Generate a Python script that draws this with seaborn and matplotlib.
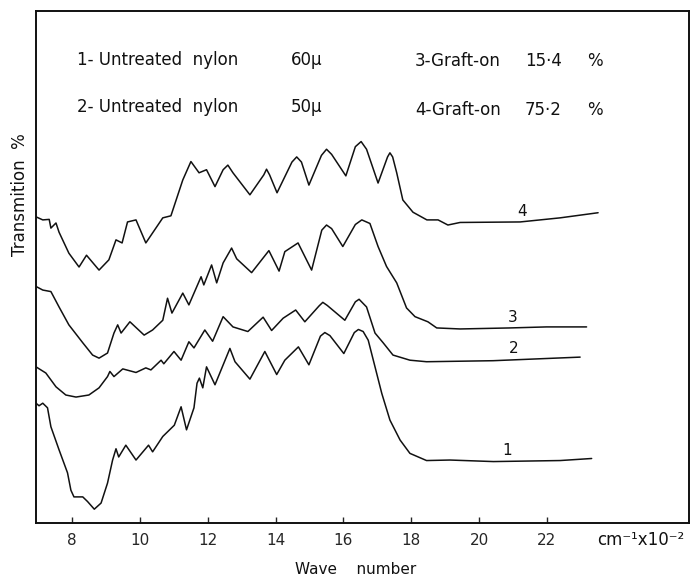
import numpy as np
import pandas as pd
import matplotlib
matplotlib.use("Agg")
import matplotlib.pyplot as plt
import seaborn as sns

# wave number (cm-1 x 10^-2) and transmission (arbitrary units)
wn_1 = [6.93, 7.02, 7.13, 7.27, 7.37, 7.61, 7.86, 7.96, 8.05, 8.31, 8.45, 8.65, 8.85,
        9.04, 9.19, 9.29, 9.37, 9.58, 9.88, 10.25, 10.37, 10.67, 11.01, 11.21, 11.37,
        11.59, 11.68, 11.75, 11.85, 11.96, 12.21, 12.65, 12.80, 13.24, 13.68, 14.03,
        14.27, 14.67, 14.98, 15.32, 15.45, 15.60, 16.01, 16.32, 16.44, 16.58, 16.73,
        16.93, 17.13, 17.37, 17.67, 17.96, 18.45, 19.14, 20.42, 22.39, 23.32]
tr_1 = [23.4, 22.9, 23.4, 22.5, 18.8, 14.3, 9.8, 6.4, 5.1, 5.1, 4.2, 2.7, 3.9,
        7.8, 12.3, 14.5, 12.9, 15.2, 12.3, 15.2, 13.9, 16.9, 19.1, 22.7, 18.2,
        22.5, 27.3, 28.3, 26.4, 30.5, 27.0, 34.1, 31.5, 28.1, 33.5, 29.0,
        31.8, 34.4, 30.9, 36.5, 37.2, 36.6, 33.1, 37.2, 37.8, 37.4, 35.7,
        30.5, 25.3, 20.1, 16.2, 13.6, 12.2, 12.3, 12.0, 12.2, 12.6]

wn_2 = [6.93, 7.22, 7.52, 7.81, 8.11, 8.49, 8.79, 9.04, 9.11, 9.23, 9.49, 9.88, 10.17,
        10.32, 10.62, 10.70, 11.00, 11.21, 11.44, 11.59, 11.91, 12.14, 12.45, 12.74,
        13.18, 13.63, 13.88, 14.22, 14.59, 14.86, 15.28, 15.39, 15.52, 16.04, 16.35,
        16.46, 16.68, 16.93, 17.17, 17.46, 17.96, 18.45, 20.41, 22.98]
tr_2 = [30.5, 29.3, 26.6, 25.0, 24.6, 25.0, 26.4, 28.6, 29.6, 28.6, 30.1, 29.4, 30.3,
        29.9, 31.8, 31.1, 33.5, 31.8, 35.4, 34.2, 37.7, 35.5, 40.3, 38.3,
        37.4, 40.2, 37.6, 40.0, 41.6, 39.3, 42.4, 43.1, 42.5, 39.6, 43.2,
        43.7, 42.2, 37.1, 35.2, 32.8, 31.8, 31.5, 31.7, 32.4]

wn_3 = [6.93, 7.13, 7.37, 7.61, 7.90, 8.31, 8.60, 8.79, 9.04, 9.23, 9.34, 9.44, 9.70,
        10.12, 10.37, 10.67, 10.81, 10.94, 11.26, 11.44, 11.80, 11.88, 12.11, 12.26,
        12.45, 12.70, 12.85, 13.29, 13.80, 14.10, 14.27, 14.66, 15.06, 15.36, 15.50,
        15.65, 15.98, 16.35, 16.54, 16.78, 17.02, 17.27, 17.57, 17.86, 18.11, 18.49,
        18.75, 19.44, 20.91, 21.99, 23.17]
tr_3 = [46.2, 45.5, 45.2, 42.2, 38.7, 35.2, 32.8, 32.2, 33.2, 37.1, 38.7, 37.1, 39.3,
        36.7, 37.7, 39.6, 43.9, 41.0, 44.9, 42.6, 48.1, 46.5, 50.4, 46.9,
        50.8, 53.7, 51.6, 48.9, 53.2, 49.2, 53.0, 54.7, 49.4, 57.2, 58.2,
        57.5, 54.0, 58.3, 59.2, 58.5, 54.0, 50.1, 46.9, 42.0, 40.3, 39.3,
        38.1, 37.9, 38.1, 38.3, 38.3]

wn_4 = [6.93, 7.13, 7.32, 7.37, 7.52, 7.61, 7.90, 8.20, 8.42, 8.79, 9.08, 9.29, 9.47,
        9.63, 9.88, 10.17, 10.67, 10.91, 11.26, 11.50, 11.74, 11.96, 12.21, 12.45,
        12.59, 12.74, 13.24, 13.65, 13.73, 13.82, 14.04, 14.48, 14.62, 14.76, 14.98,
        15.35, 15.50, 15.65, 16.07, 16.35, 16.52, 16.68, 17.02, 17.30, 17.37, 17.45,
        17.57, 17.75, 18.05, 18.46, 18.79, 19.08, 19.44, 21.21, 22.39, 23.51]
tr_4 = [59.8, 59.2, 59.3, 57.6, 58.6, 56.8, 52.7, 50.0, 52.3, 49.4, 51.4, 55.3, 54.7,
        58.8, 59.2, 54.7, 59.6, 60.0, 67.0, 70.6, 68.4, 69.0, 65.7, 69.0,
        69.9, 68.4, 64.1, 68.0, 69.1, 68.0, 64.5, 70.5, 71.5, 70.5, 66.0,
        71.8, 73.0, 72.0, 67.8, 73.5, 74.5, 73.0, 66.4, 71.5, 72.3, 71.5,
        68.4, 63.1, 60.7, 59.2, 59.2, 58.2, 58.7, 58.8, 59.6, 60.6]

curve_names = ["1", "2", "3", "4"]
curve_wn = [wn_1, wn_2, wn_3, wn_4]
curve_tr = [tr_1, tr_2, tr_3, tr_4]
label_wn = [20.82, 21.03, 21.0, 21.26]
label_tr = [14.1, 34.1, 40.1, 60.9]

x_ticks = [8, 10, 12, 14, 16, 18, 20, 22]

sns.set_style("white")
plt.rcParams['font.family'] = ['DejaVu Sans']

fig = plt.figure(figsize=(6.92, 5.79), dpi=100)
ax = fig.add_axes([0.052, 0.0967, 0.9436, 0.8843])

for wn, tr in zip(curve_wn, curve_tr):
    df = pd.DataFrame({"wn": wn, "tr": tr})
    sns.lineplot(data=df, x="wn", y="tr", ax=ax, color="#111111",
                 linewidth=1.1, estimator=None, sort=False,
                 solid_joinstyle="round", solid_capstyle="round")

for name, x, y in zip(curve_names, label_wn, label_tr):
    ax.text(x, y, name, fontsize=11, ha="center", va="center", color="#111111")

ax.set_xlim(6.93, 26.19)
ax.set_ylim(0, 100)
ax.set_xticks(x_ticks)
ax.set_xticklabels([str(t) for t in x_ticks])
ax.set_yticks([])
ax.tick_params(axis="x", direction="in", length=4, width=1, pad=7,
               labelsize=11, bottom=True)
ax.set_xlabel("")
ax.set_ylabel("")
for s in ax.spines.values():
    s.set_visible(True)
    s.set_color("#111111")
    s.set_linewidth(1.4)

# notes at the top
tkw = dict(fontsize=12, va="center", ha="left", color="#111111")
ax.text(8.14, 90.4, "1- Untreated  nylon", **tkw)
ax.text(14.45, 90.4, "60μ", **tkw)
ax.text(8.14, 81.3, "2- Untreated  nylon", **tkw)
ax.text(14.45, 81.3, "50μ", **tkw)
ax.text(18.11, 90.2, "3-Graft-on", **tkw)
ax.text(21.35, 90.2, "15·4", **tkw)
ax.text(23.18, 90.2, "%", **tkw)
ax.text(18.11, 80.7, "4-Graft-on", **tkw)
ax.text(21.35, 80.7, "75·2", **tkw)
ax.text(23.18, 80.7, "%", **tkw)

fig.text(20 / 692, 1 - 195 / 579, "Transmition  %", rotation=90,
         fontsize=12, ha="center", va="center", color="#111111")
fig.text(356 / 692, 1 - 570 / 579, "Wave    number", fontsize=11,
         ha="center", va="center", color="#111111")
fig.text(597 / 692, 1 - 540 / 579, "cm⁻¹x10⁻²", fontsize=12,
         ha="left", va="center", color="#111111")

fig.savefig("out.png", dpi=100)
